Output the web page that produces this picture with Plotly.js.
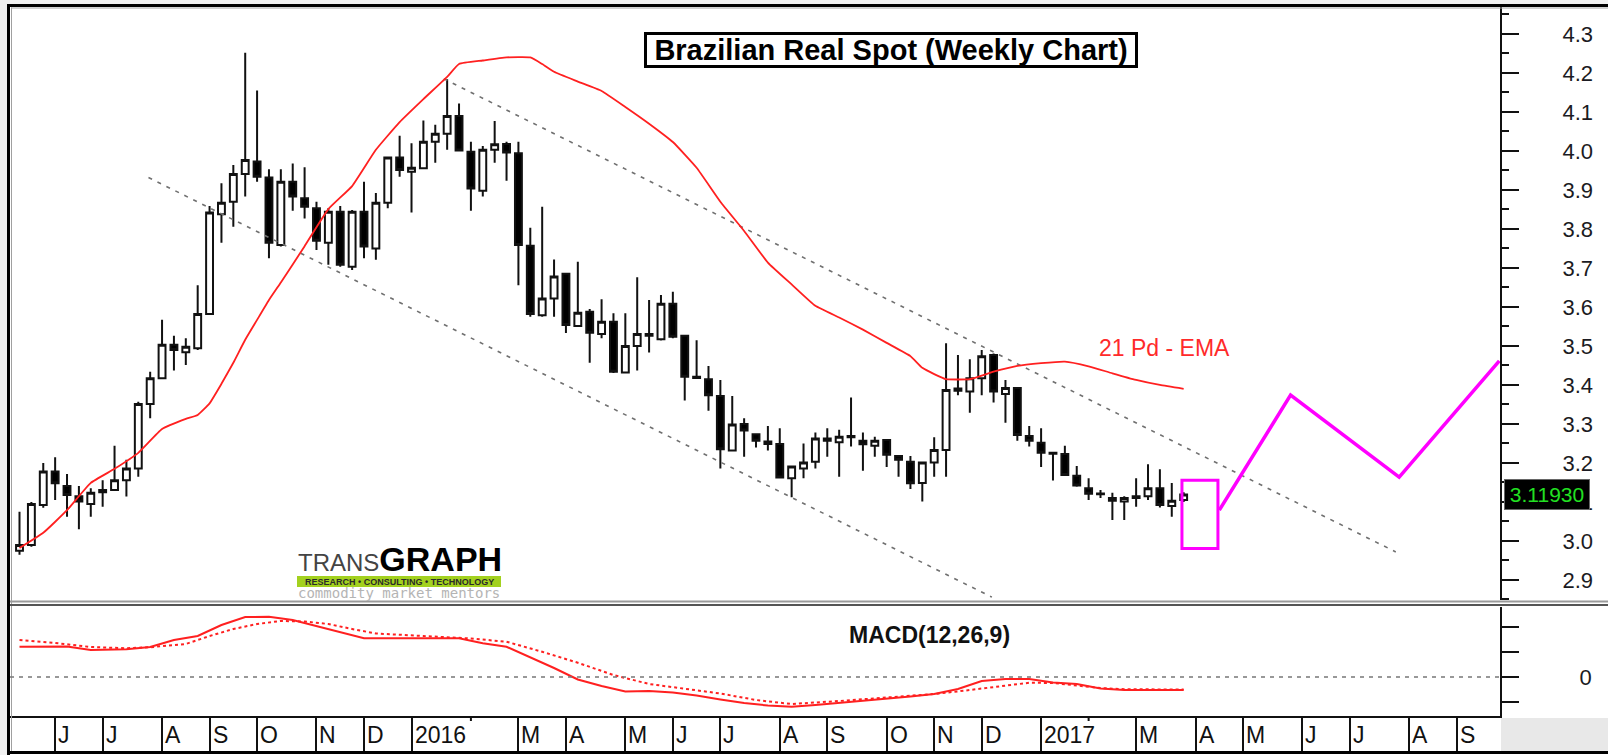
<!DOCTYPE html>
<html><head><meta charset="utf-8">
<script src="https://cdn.plot.ly/plotly-3.0.1.min.js"></script>
<style>html,body{margin:0;padding:0;background:#fff;}#chart{width:1608px;height:755px;}</style>
</head><body><div id="chart"></div>
<script>
// ---------- DATA ----------
const weekDates = ['2015-05-15','2015-05-22','2015-05-29','2015-06-05','2015-06-12','2015-06-19','2015-06-26','2015-07-03','2015-07-10','2015-07-17','2015-07-24','2015-07-31','2015-08-07','2015-08-14','2015-08-21','2015-08-28','2015-09-04','2015-09-11','2015-09-18','2015-09-25','2015-10-02','2015-10-09','2015-10-16','2015-10-23','2015-10-30','2015-11-06','2015-11-13','2015-11-20','2015-11-27','2015-12-04','2015-12-11','2015-12-18','2015-12-25',
'2016-01-01','2016-01-08','2016-01-15','2016-01-22','2016-01-29','2016-02-05','2016-02-12','2016-02-19','2016-02-26','2016-03-04','2016-03-11','2016-03-18','2016-03-25','2016-04-01','2016-04-08','2016-04-15','2016-04-22','2016-04-29','2016-05-06','2016-05-13','2016-05-20','2016-05-27','2016-06-03','2016-06-10','2016-06-17','2016-06-24','2016-07-01','2016-07-08','2016-07-15','2016-07-22','2016-07-29','2016-08-05','2016-08-12','2016-08-19','2016-08-26','2016-09-02','2016-09-09','2016-09-16','2016-09-23','2016-09-30','2016-10-07','2016-10-14','2016-10-21','2016-10-28','2016-11-04','2016-11-11','2016-11-18','2016-11-25','2016-12-02','2016-12-09','2016-12-16','2016-12-23','2016-12-30',
'2017-01-06','2017-01-13','2017-01-20','2017-01-27','2017-02-03','2017-02-10','2017-02-17','2017-02-24','2017-03-03','2017-03-10','2017-03-17','2017-03-24','2017-03-31'];

const openPrices = [2.975,2.99,3.092,3.178,3.141,3.115,3.095,3.131,3.131,3.156,
3.186,3.351,3.417,3.503,3.484,3.494,3.582,3.838,3.870,3.941,
3.973,3.932,3.759,3.921,3.879,3.853,3.765,3.844,3.703,3.844,
3.750,3.867,3.983,3.947,3.956,4.024,4.044,4.090,3.998,3.898,
4.003,4.018,3.994,3.757,3.579,3.622,3.685,3.551,3.588,3.531,
3.562,3.432,3.500,3.531,3.517,3.608,3.526,3.421,3.415,3.372,
3.232,3.300,3.274,3.255,3.249,3.161,3.186,3.203,3.263,3.253,
3.269,3.257,3.244,3.259,3.218,3.203,3.149,3.201,3.233,3.391,
3.383,3.417,3.477,3.377,3.392,3.269,3.252,3.226,3.223,3.167,
3.135,3.122,3.110,3.101,3.115,3.115,3.135,3.090,3.105];

const highPrices = [3.075,3.10,3.20,3.215,3.172,3.141,3.135,3.156,3.244,3.208,
3.357,3.434,3.567,3.526,3.520,3.656,3.859,3.917,3.964,4.252,
4.155,3.953,3.953,3.968,3.958,3.870,3.853,3.859,3.849,3.921,
3.892,3.985,4.039,4.020,4.078,4.067,4.184,4.122,4.024,4.013,
4.077,4.024,4.024,3.803,3.857,3.722,3.686,3.716,3.595,3.620,
3.584,3.584,3.676,3.618,3.631,3.639,3.527,3.515,3.449,3.413,
3.372,3.315,3.275,3.295,3.289,3.191,3.250,3.278,3.289,3.285,
3.368,3.278,3.267,3.260,3.220,3.218,3.201,3.266,3.507,3.477,
3.466,3.490,3.481,3.413,3.393,3.295,3.289,3.227,3.244,3.192,
3.161,3.131,3.124,3.115,3.161,3.197,3.184,3.149,3.125];

const lowPrices = [2.965,2.985,3.085,3.105,3.062,3.030,3.062,3.088,3.128,3.114,
3.165,3.315,3.415,3.437,3.451,3.490,3.580,3.765,3.806,3.883,
3.921,3.725,3.755,3.847,3.827,3.746,3.708,3.703,3.695,3.725,
3.721,3.853,3.934,3.842,3.955,3.970,4.003,4.000,3.847,3.883,
3.970,3.924,3.656,3.575,3.575,3.575,3.533,3.550,3.457,3.520,
3.431,3.430,3.437,3.483,3.514,3.520,3.360,3.417,3.334,3.186,
3.230,3.216,3.240,3.232,3.160,3.112,3.161,3.186,3.216,3.165,
3.242,3.180,3.216,3.190,3.165,3.133,3.101,3.165,3.165,3.374,
3.329,3.374,3.355,3.303,3.257,3.242,3.190,3.155,3.168,3.139,
3.105,3.110,3.054,3.054,3.088,3.105,3.086,3.062,3.100];

const closePrices = [2.99,3.095,3.178,3.148,3.118,3.101,3.124,3.125,3.156,3.186,
3.351,3.417,3.503,3.490,3.498,3.582,3.842,3.867,3.941,3.977,
3.934,3.765,3.921,3.883,3.857,3.770,3.844,3.708,3.844,3.755,
3.867,3.983,3.951,3.957,4.024,4.044,4.090,4.001,3.904,4.003,
4.017,3.996,3.759,3.582,3.622,3.678,3.554,3.585,3.534,3.562,
3.434,3.500,3.531,3.526,3.608,3.524,3.421,3.418,3.374,3.235,
3.299,3.283,3.257,3.249,3.163,3.191,3.201,3.263,3.257,3.267,
3.266,3.248,3.257,3.221,3.208,3.148,3.201,3.233,3.387,3.385,
3.417,3.474,3.383,3.392,3.272,3.257,3.226,3.224,3.169,3.142,
3.121,3.120,3.103,3.110,3.110,3.135,3.092,3.103,3.1193];

const emaDates = ['2015-05-15','2015-05-29','2015-06-12','2015-06-26','2015-07-10','2015-07-24','2015-08-07','2015-08-21','2015-08-28','2015-09-04','2015-09-11','2015-09-18','2015-09-25','2015-10-02','2015-10-09','2015-10-16','2015-10-23','2015-10-30','2015-11-13','2015-11-27','2015-12-11','2015-12-25','2016-01-08','2016-01-22','2016-01-29','2016-02-12','2016-02-26','2016-03-11','2016-03-18','2016-03-25','2016-04-08','2016-04-22','2016-05-06','2016-05-20','2016-06-03','2016-06-17','2016-07-01','2016-07-15','2016-07-29','2016-08-12','2016-08-26','2016-09-09','2016-09-23','2016-10-07','2016-10-21','2016-10-28','2016-11-04','2016-11-11','2016-11-25','2016-12-09','2016-12-23','2017-01-06','2017-01-20','2017-02-03','2017-02-17','2017-03-03','2017-03-17','2017-03-31'];
const emaValues = [2.982,3.021,3.079,3.149,3.185,3.226,3.287,3.313,3.323,3.353,3.403,3.457,3.516,3.567,3.618,3.663,3.709,3.756,3.851,3.910,4.003,4.074,4.133,4.190,4.223,4.232,4.240,4.240,4.223,4.203,4.178,4.154,4.113,4.070,4.023,3.957,3.870,3.795,3.714,3.658,3.603,3.573,3.542,3.508,3.474,3.444,3.428,3.415,3.415,3.434,3.449,3.456,3.460,3.448,3.430,3.413,3.400,3.390];

const macdDates = ['2015-05-15','2015-06-12','2015-06-26','2015-07-17','2015-07-31','2015-08-14','2015-08-28','2015-09-11','2015-09-25','2015-10-09','2015-10-23','2015-11-06','2015-11-20','2015-12-04','2016-01-29','2016-02-12','2016-02-26','2016-03-11','2016-03-25','2016-04-08','2016-04-22','2016-05-06','2016-05-20','2016-06-03','2016-06-17','2016-07-01','2016-07-15','2016-07-29','2016-08-12','2016-08-26','2016-09-09','2016-09-23','2016-10-07','2016-10-21','2016-11-04','2016-11-18','2016-12-02','2016-12-16','2016-12-30','2017-01-13','2017-01-27','2017-02-10','2017-02-24','2017-03-10','2017-03-31'];
const macdValues = [0.121,0.122,0.108,0.111,0.120,0.148,0.164,0.208,0.240,0.241,0.228,0.204,0.178,0.155,0.155,0.135,0.121,0.080,0.036,-0.010,-0.036,-0.058,-0.056,-0.062,-0.074,-0.090,-0.104,-0.114,-0.119,-0.112,-0.104,-0.095,-0.086,-0.078,-0.068,-0.048,-0.016,-0.008,-0.008,-0.022,-0.028,-0.046,-0.052,-0.052,-0.052];

const signalDates = ['2015-05-15','2015-06-05','2015-06-26','2015-07-17','2015-07-31','2015-08-21','2015-09-04','2015-09-18','2015-10-02','2015-10-16','2015-10-30','2015-11-13','2015-11-27','2015-12-11','2016-01-08','2016-02-05','2016-02-26','2016-03-18','2016-04-08','2016-04-29','2016-05-20','2016-06-10','2016-07-01','2016-07-22','2016-08-12','2016-09-09','2016-10-07','2016-11-04','2016-11-25','2016-12-16','2016-12-30','2017-01-13','2017-01-27','2017-02-10','2017-02-24','2017-03-17','2017-03-31'];
const signalValues = [0.148,0.136,0.120,0.115,0.119,0.132,0.164,0.192,0.212,0.224,0.222,0.212,0.192,0.174,0.164,0.154,0.141,0.101,0.057,0.008,-0.028,-0.048,-0.066,-0.092,-0.108,-0.096,-0.082,-0.068,-0.052,-0.034,-0.023,-0.024,-0.034,-0.044,-0.049,-0.049,-0.050];

const lowerTrendDates = ['2015-07-30','2016-12-08'];
const lowerTrendValues = [3.932, 2.856];
const upperTrendDates = ['2016-01-20','2017-08-03'];
const upperTrendValues = [4.185, 2.972];

const projectionDates = ['2017-04-21','2017-06-02','2017-08-05','2017-10-03'];
const projectionValues = [3.079, 3.374, 3.164, 3.462];
const targetBoxDates = ['2017-03-30','2017-04-20 05:00'];
const targetBoxValues = [2.981, 3.156];

const lastPrice = 3.1193;
const lastPriceLabel = '3.11930';

const monthTickDates = ['2015-06-05','2015-07-03','2015-08-07','2015-09-04','2015-10-02','2015-11-06','2015-12-04','2016-01-01','2016-03-04','2016-04-01','2016-05-06','2016-06-03','2016-07-01','2016-08-05','2016-09-02','2016-10-07','2016-11-04','2016-12-02','2017-01-06','2017-03-03','2017-04-07','2017-05-05','2017-06-09','2017-07-07','2017-08-11','2017-09-08'];
const monthTickLabels = ['J','J','A','S','O','N','D','2016','M','A','M','J','J','A','S','O','N','D','2017','M','A','M','J','J','A','S'];
const minorTickDates = ['2016-02-05','2017-02-03'];

const titleText = 'Brazilian Real Spot (Weekly Chart)';
const emaLabel = '21 Pd - EMA';
const macdLabel = 'MACD(12,26,9)';

// ---------- LAYOUT HELPERS (pixel -> paper) ----------
const W = 1608, H = 755, ML = 10, MR = 108, MT = 7, MB = 39;
const PW = W - ML - MR, PH = H - MT - MB;
const px = x => (x - ML) / PW;
const py = y => (H - MB - y) / PH;

const FONT = 'Liberation Sans, Arial, sans-serif';

const traces = [
  {type:'scatter', mode:'lines', x: lowerTrendDates, y: lowerTrendValues, xaxis:'x', yaxis:'y',
   line:{color:'#707070', width:1.6, dash:'4px,6px'}, hoverinfo:'skip', showlegend:false},
  {type:'scatter', mode:'lines', x: upperTrendDates, y: upperTrendValues, xaxis:'x', yaxis:'y',
   line:{color:'#707070', width:1.6, dash:'4px,6px'}, hoverinfo:'skip', showlegend:false},
  {type:'candlestick', x: weekDates, open: openPrices, high: highPrices, low: lowPrices, close: closePrices,
   xaxis:'x', yaxis:'y', whiskerwidth:0, hoverinfo:'none', showlegend:false,
   increasing:{line:{color:'#111111', width:2}, fillcolor:'#ffffff'},
   decreasing:{line:{color:'#111111', width:2}, fillcolor:'#000000'}},
  {type:'scatter', mode:'lines', x: emaDates, y: emaValues, xaxis:'x', yaxis:'y',
   line:{color:'#ff2020', width:1.8, shape:'spline', smoothing:0.4}, hoverinfo:'skip', showlegend:false},
  {type:'scatter', mode:'lines', x: projectionDates, y: projectionValues, xaxis:'x', yaxis:'y',
   line:{color:'#ff00ff', width:3.5}, hoverinfo:'skip', showlegend:false, cliponaxis:true},
  {type:'scatter', mode:'lines', x: signalDates, y: signalValues, xaxis:'x', yaxis:'y2',
   line:{color:'#ff2020', width:2, dash:'dot'}, hoverinfo:'skip', showlegend:false},
  {type:'scatter', mode:'lines', x: macdDates, y: macdValues, xaxis:'x', yaxis:'y2',
   line:{color:'#ff2020', width:2}, hoverinfo:'skip', showlegend:false}
];

const shapes = [
  // window chrome
  {type:'rect', xref:'paper', yref:'paper', x0:px(0), x1:px(7), y0:py(755), y1:py(0), fillcolor:'#f0f0f0', line:{width:0}},
  {type:'rect', xref:'paper', yref:'paper', x0:px(0), x1:px(1608), y0:py(4), y1:py(0), fillcolor:'#f0f0f0', line:{width:0}},
  {type:'rect', xref:'paper', yref:'paper', x0:px(1501), x1:px(1608), y0:py(751), y1:py(718), fillcolor:'#e8e8e8', line:{width:0}},
  // frame
  {type:'line', xref:'paper', yref:'paper', x0:px(8.5), x1:px(8.5), y0:py(4), y1:py(755), line:{color:'#000', width:3}},
  {type:'line', xref:'paper', yref:'paper', x0:px(7), x1:px(1608), y0:py(5.5), y1:py(5.5), line:{color:'#000', width:3}},
  {type:'line', xref:'paper', yref:'paper', x0:px(7), x1:px(1608), y0:py(752.5), y1:py(752.5), line:{color:'#000', width:3}},
  {type:'line', xref:'paper', yref:'paper', x0:px(11.5), x1:px(11.5), y0:py(7.5), y1:py(751), line:{color:'#a0a0a0', width:1}},
  {type:'line', xref:'paper', yref:'paper', x0:px(11), x1:px(1608), y0:py(8), y1:py(8), line:{color:'#a0a0a0', width:1}},
  // panel separator
  {type:'line', xref:'paper', yref:'paper', x0:px(10), x1:px(1608), y0:py(601.5), y1:py(601.5), line:{color:'#9a9a9a', width:2}},
  {type:'line', xref:'paper', yref:'paper', x0:px(10), x1:px(1608), y0:py(605), y1:py(605), line:{color:'#555', width:2}},
  // MACD zero line
  {type:'line', xref:'paper', yref:'y2', x0:0, x1:1, y0:0, y1:0, line:{color:'#777', width:1.5, dash:'4px,5px'}},
  // target box
  {type:'rect', xref:'x', yref:'y', x0:targetBoxDates[0], x1:targetBoxDates[1], y0:targetBoxValues[0], y1:targetBoxValues[1],
   line:{color:'#ff00ff', width:3}, fillcolor:'rgba(0,0,0,0)'},
  // logo bar
  {type:'rect', xref:'paper', yref:'paper', x0:px(297), x1:px(501), y0:py(587), y1:py(576), fillcolor:'#a3d11f', line:{width:0}}
];
minorTickDates.forEach(d => shapes.push({type:'line', xref:'x', yref:'paper', x0:d, x1:d, y0:py(716), y1:py(721), line:{color:'#111', width:2}}));

const annotations = [
  {xref:'paper', yref:'paper', x:px(891), y:py(50), xanchor:'center', yanchor:'middle', text:'<b>'+titleText+'</b>', showarrow:false,
   font:{family:FONT, size:29, color:'#000'}, bgcolor:'#fff', bordercolor:'#000', borderwidth:3, borderpad:0, width:488, height:30},
  {xref:'paper', yref:'y', x:px(1097), y:3.495, xanchor:'left', yanchor:'middle', text:emaLabel, showarrow:false,
   font:{family:FONT, size:23, color:'#ff2a2a'}},
  {xref:'paper', yref:'paper', x:px(929.5), y:py(635), xanchor:'center', yanchor:'middle', text:'<b>'+macdLabel+'</b>', showarrow:false,
   font:{family:FONT, size:23, color:'#111'}},
  {xref:'paper', yref:'y', x:px(1547), y:lastPrice, xanchor:'center', yanchor:'middle', text:lastPriceLabel, showarrow:false,
   font:{family:FONT, size:21, color:'#22e022'}, bgcolor:'#000', bordercolor:'#666', borderwidth:1, borderpad:0, width:84, height:29},
  {xref:'paper', yref:'paper', x:px(296), y:py(559), xanchor:'left', yanchor:'middle', showarrow:false,
   text:'<span style="color:#444444;font-size:24px">TRANS</span><span style="font-weight:bold;font-size:34px;color:#000">GRAPH</span>',
   font:{family:FONT, size:24, color:'#000'}},
  {xref:'paper', yref:'paper', x:px(399), y:py(581.5), xanchor:'center', yanchor:'middle', showarrow:false, text:'<b>RESEARCH • CONSULTING • TECHNOLOGY</b>',
   font:{family:FONT, size:9, color:'#2a2a2a'}},
  {xref:'paper', yref:'paper', x:px(399), y:py(593), xanchor:'center', yanchor:'middle', showarrow:false, text:'commodity market mentors',
   font:{family:'DejaVu Sans Mono, monospace', size:14, color:'#b4b4b4'}}
];
monthTickDates.forEach((d, i) => annotations.push({
  xref:'x', yref:'paper', x:d, y:py(735), xanchor:'left', yanchor:'middle', xshift:1, showarrow:false,
  text:monthTickLabels[i], font:{family:FONT, size:23, color:'#111'}
}));

const layout = {
  width: W, height: H,
  margin:{l:ML, r:MR, t:MT, b:MB, pad:0},
  paper_bgcolor:'#fff', plot_bgcolor:'#fff',
  showlegend:false, hovermode:false, dragmode:false,
  boxgap:0.42, boxgroupgap:0,
  font:{family:FONT, color:'#111'},
  xaxis:{type:'date', range:['2015-05-09 09:36','2017-10-03 10:00'], anchor:'y2', domain:[0,1],
    showline:true, linecolor:'#111', linewidth:2, showgrid:false, zeroline:false,
    ticks:'outside', ticklen:36, tickwidth:2, tickcolor:'#111', tickmode:'array', tickvals:monthTickDates,
    showticklabels:false, rangeslider:{visible:false}, fixedrange:true, automargin:false},
  yaxis:{domain:[py(600), 1], range:[2.8487, 4.3692], side:'right', anchor:'x',
    showline:true, linecolor:'#111', linewidth:2, showgrid:false, zeroline:false,
    ticks:'outside', ticklen:17, tickwidth:2, tickcolor:'#111', dtick:0.1, tick0:0, tickformat:'.1f',
    minor:{ticks:'outside', ticklen:7, tickwidth:2, tickcolor:'#111', dtick:0.05, tick0:0, showgrid:false},
    tickfont:{family:FONT, size:22, color:'#1b1b22'}, ticklabelstandoff:39, fixedrange:true, automargin:false},
  yaxis2:{domain:[0, py(607)], range:[-0.156, 0.28], side:'right', anchor:'x',
    showline:true, linecolor:'#111', linewidth:2, showgrid:false, zeroline:false,
    ticks:'outside', ticklen:17, tickwidth:2, tickcolor:'#111', tickmode:'array',
    tickvals:[-0.1, 0, 0.1, 0.2], ticktext:['', '0', '', ''],
    tickfont:{family:FONT, size:22, color:'#1b1b22'}, ticklabelstandoff:56, fixedrange:true, automargin:false},
  shapes: shapes,
  annotations: annotations
};

Plotly.newPlot('chart', traces, layout, {staticPlot:true, displayModeBar:false});
</script></body></html>
